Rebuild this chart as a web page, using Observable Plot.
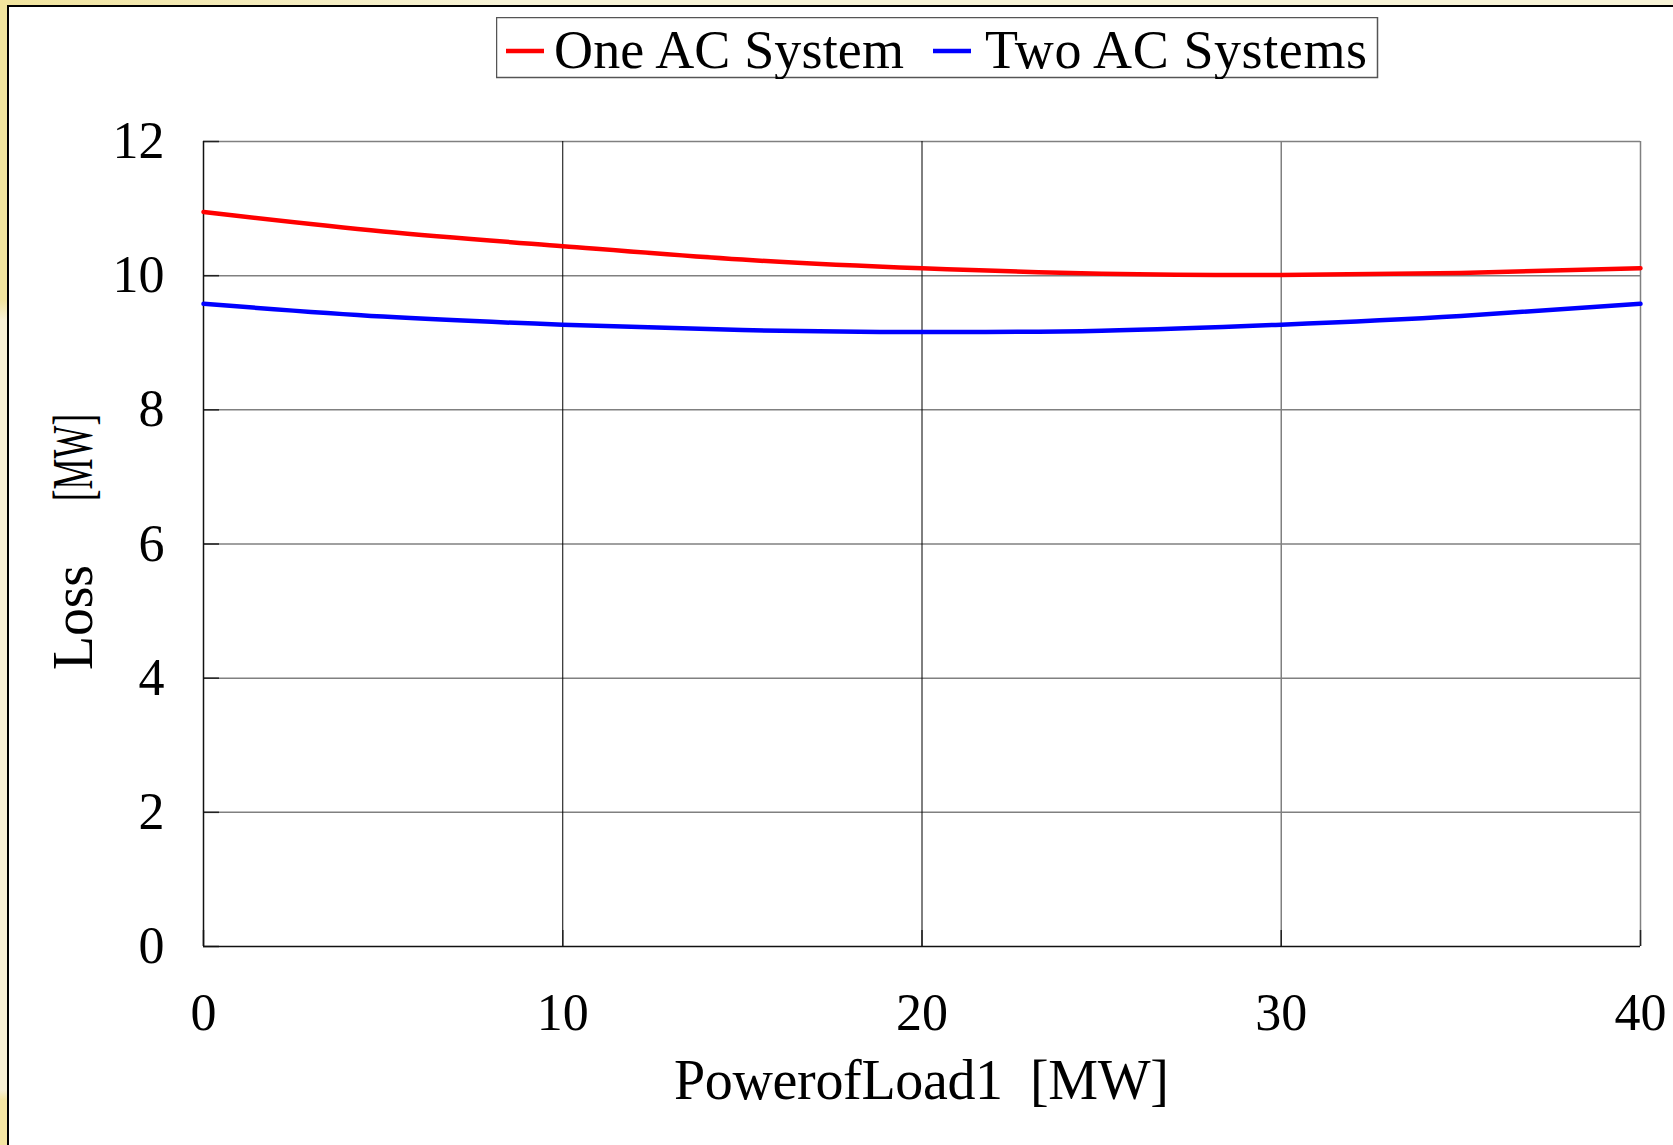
<!DOCTYPE html>
<html>
<head>
<meta charset="utf-8">
<script src="https://cdn.jsdelivr.net/npm/d3@7"></script>
<script src="https://cdn.jsdelivr.net/npm/@observablehq/plot@0.6"></script>
<style>
  html, body { margin: 0; padding: 0; }
  body { width: 1673px; height: 1145px; position: relative; overflow: hidden;
         background: linear-gradient(#f1e49e 0px, #f1e49e 300px, #f8f1d6 320px, #f8f1d6 1090px, #f5e6a3 1100px); }
  #topstrip { position: absolute; left: 0; top: 0; width: 1673px; height: 5px;
              background: linear-gradient(90deg, #f1e49e 0px, #f7f3d6 500px); }
  #sheet { position: absolute; left: 7px; top: 5px; width: 1666px; height: 1140px;
           background: #fff; border-left: 2px solid #000; border-top: 2px solid #000; box-sizing: border-box; }
  #chart { position: absolute; left: 0; top: 0; }
  #legend { position: absolute; left: 496px; top: 17px; }
</style>
</head>
<body>
<div id="topstrip"></div>
<div id="sheet"></div>
<div id="chart"></div>
<div id="legend"></div>
<script>
// ---- data ----
const loads = [0, 5, 10, 15, 20, 25, 30, 35, 40];
const oneAC = [10.95, 10.66, 10.44, 10.24, 10.11, 10.03, 10.01, 10.04, 10.11];
const twoAC = [9.58, 9.39, 9.27, 9.19, 9.16, 9.18, 9.27, 9.40, 9.58];
const seriesNames = ["One AC System", "Two AC Systems"];
const seriesColors = ["#ff0000", "#0000ff"];
const xTicks = [0, 10, 20, 30, 40];
const yTicks = [0, 2, 4, 6, 8, 10, 12];
const xTitle = "PowerofLoad1  [MW]";
const yTitleA = "Loss";
const yTitleB = "[MW]";

const rows = [];
loads.forEach((x, i) => {
  rows.push({load: x, loss: oneAC[i], series: seriesNames[0]});
});
loads.forEach((x, i) => {
  rows.push({load: x, loss: twoAC[i], series: seriesNames[1]});
});

const W = 1673, H = 1145;
const mL = 203, mR = 33, mT = 141, mB = 199;

const plot = Plot.plot({
  width: W,
  height: H,
  marginLeft: mL,
  marginRight: mR,
  marginTop: mT,
  marginBottom: mB,
  style: {fontFamily: "'Liberation Serif', serif", fontSize: "52px", background: "transparent", color: "#000"},
  x: {domain: [0, 40], label: null},
  y: {domain: [0, 12], label: null},
  color: {domain: seriesNames, range: seriesColors},
  marks: [
    Plot.ruleY(yTicks.filter(d => d > 0), {stroke: "#808080", strokeWidth: 1.5}),
    Plot.ruleX(xTicks.filter(d => d > 0 && d < 30), {stroke: "#000", strokeWidth: 1}),
    Plot.ruleX(xTicks.filter(d => d >= 30), {stroke: "#808080", strokeWidth: 1.5}),
    Plot.axisY({ticks: yTicks, tickSize: -16, tickFormat: () => "", stroke: "#222", strokeWidth: 1.5}),
    Plot.axisX({ticks: xTicks, tickSize: -16, tickFormat: () => "", stroke: "#222", strokeWidth: 1.5}),
    Plot.axisY({ticks: yTicks, tickSize: 0, tickPadding: 39, tickFormat: d => String(d), fill: "#000"}),
    Plot.axisX({ticks: xTicks, tickSize: 0, tickPadding: 47, tickFormat: d => String(d), fill: "#000"}),
    Plot.ruleY([0], {stroke: "#111", strokeWidth: 1.5}),
    Plot.ruleX([0], {stroke: "#111", strokeWidth: 1.5}),
    Plot.line(rows, {x: "load", y: "loss", z: "series", stroke: "series", strokeWidth: 4.5, curve: "natural"})
  ]
});
document.getElementById("chart").appendChild(plot);

// axis titles
const svg = d3.select(plot);
svg.append("text")
  .attr("x", 674).attr("y", 1099)
  .attr("text-anchor", "start")
  .attr("textLength", 495).attr("lengthAdjust", "spacing")
  .attr("font-size", 56).attr("fill", "#000")
  .text(xTitle);
const g = svg.append("g").attr("transform", "translate(92,0) rotate(-90)");
g.append("text")
  .attr("x", -670).attr("y", 0)
  .attr("text-anchor", "start")
  .attr("textLength", 105).attr("lengthAdjust", "spacing")
  .attr("font-size", 56).attr("fill", "#000")
  .text(yTitleA);
g.append("text")
  .attr("x", -501).attr("y", 0)
  .attr("text-anchor", "start")
  .attr("textLength", 87).attr("lengthAdjust", "spacingAndGlyphs")
  .attr("font-size", 56).attr("fill", "#000")
  .text(yTitleB);

// legend (HTML block above the plot area)
const lg = d3.select("#legend").append("svg")
  .attr("width", 883).attr("height", 62)
  .style("font-family", "'Liberation Serif', serif");
lg.append("rect").attr("x", 0.5).attr("y", 0.5).attr("width", 881).attr("height", 60)
  .attr("fill", "#fff").attr("stroke", "#555").attr("stroke-width", 1.5);
const items = [
  {name: seriesNames[0], color: seriesColors[0], x0: 10, tx: 58, tl: 350},
  {name: seriesNames[1], color: seriesColors[1], x0: 437, tx: 489, tl: 382}
];
items.forEach(it => {
  lg.append("line").attr("x1", it.x0).attr("x2", it.x0 + 38).attr("y1", 34).attr("y2", 34)
    .attr("stroke", it.color).attr("stroke-width", 4.5);
  lg.append("text").attr("x", it.tx).attr("y", 51)
    .attr("text-anchor", "start")
    .attr("font-size", 54).attr("textLength", it.tl).attr("lengthAdjust", "spacing")
    .attr("fill", "#000").text(it.name);
});
</script>
</body>
</html>
